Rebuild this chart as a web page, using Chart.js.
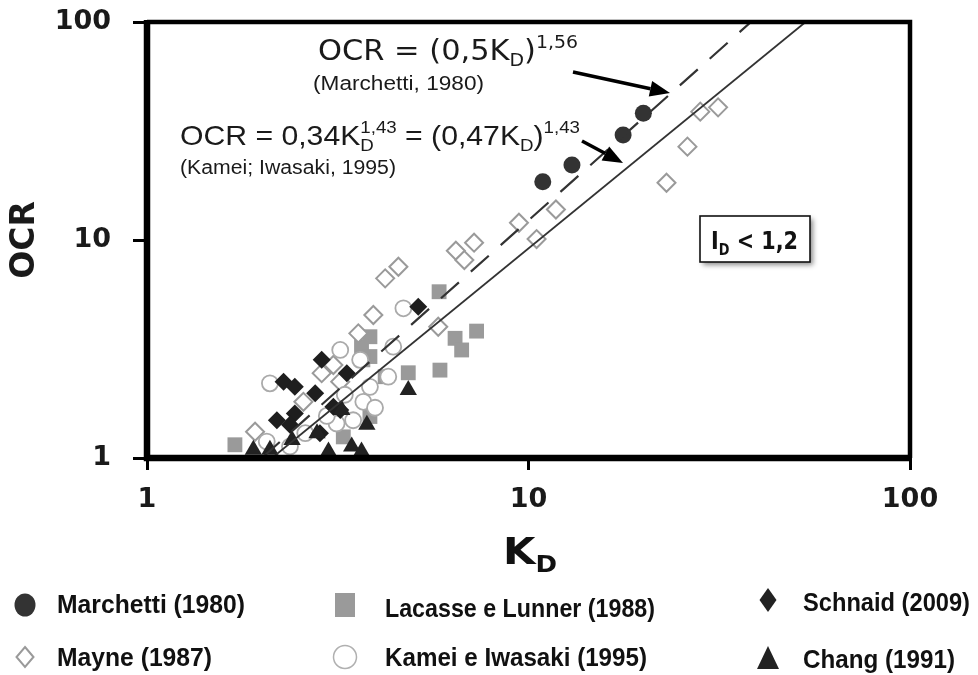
<!DOCTYPE html>
<html>
<head>
<meta charset="utf-8">
<script src="https://cdn.jsdelivr.net/npm/chart.js@4.4.0/dist/chart.umd.min.js"></script>
<style>
  html, body { margin: 0; padding: 0; background: #ffffff; }
  #wrap { width: 978px; height: 675px; }
</style>
</head>
<body>
<div id="wrap"><canvas id="c" width="978" height="675"></canvas></div>
<script>
// K_D and OCR values, one pair of arrays per study
const marchettiKD  = [10.9, 13.0, 17.7, 20.0];
const marchettiOCR = [18.5, 22.1, 30.3, 38.1];

const lacasseKD  = [5.83, 3.84, 3.65, 3.84, 6.42, 6.68, 7.31, 5.86, 4.84, 4.21, 3.84, 1.70, 3.27, 3.68];
const lacasseOCR = [5.79, 3.60, 3.24, 2.92, 3.54, 3.13, 3.82, 2.53, 2.46, 2.36, 1.55, 1.15, 1.25, 2.82];

const schnaidKD  = [5.14, 2.87, 3.34, 2.28, 2.44, 2.76, 3.21, 2.44, 2.19, 2.37, 2.84, 3.08];
const schnaidOCR = [4.94, 2.82, 2.45, 2.24, 2.12, 1.98, 1.66, 1.60, 1.49, 1.42, 1.30, 1.72];

const mayneKD  = [4.21, 4.56, 3.92, 5.80, 3.58, 3.08, 2.87, 2.57, 1.92, 6.45, 7.20, 6.79, 9.44, 10.5, 11.8, 23.0, 26.1, 28.2, 31.4, 3.21];
const mayneOCR = [6.67, 7.54, 4.53, 4.00, 3.73, 2.67, 2.45, 1.81, 1.32, 8.93, 9.72, 8.09, 12.0, 10.1, 13.8, 18.3, 26.8, 38.8, 40.6, 2.24];

const kameiKD  = [2.10, 3.21, 4.70, 3.69, 3.84, 4.29, 3.14, 2.96, 2.37, 3.47, 4.42, 3.62, 2.06, 2.60, 3.30, 3.96];
const kameiOCR = [2.20, 3.13, 4.86, 1.81, 2.12, 2.36, 1.44, 1.56, 1.13, 1.49, 3.24, 2.82, 1.19, 1.30, 1.95, 1.70];

const changKD  = [4.84, 3.77, 1.90, 2.99, 3.44, 2.79, 3.24, 3.65, 2.40, 2.10];
const changOCR = [2.05, 1.42, 1.09, 1.07, 1.13, 1.30, 1.66, 1.07, 1.21, 1.09];

// axis ticks
const tickValues = [1, 10, 100];

// correlations: OCR = coef * KD^exp  and  OCR = (factor * KD)^exp
const kameiCoef = 0.34, kameiExp = 1.43;
const marchettiFactor = 0.5, marchettiExp = 1.56;
const lineOCR = [1, 100];

const zip = (xs, ys) => xs.map((x, i) => ({ x: x, y: ys[i] }));
const kameiLine = lineOCR.map(o => ({ x: Math.pow(o / kameiCoef, 1 / kameiExp), y: o }));
const marchettiLine = lineOCR.map(o => ({ x: Math.pow(o, 1 / marchettiExp) / marchettiFactor, y: o }));

const ink = '#1a1a1a';
const narrow = '"Liberation Sans Narrow", "Liberation Sans", Arial, sans-serif';

// text made of runs: normal, subscript, superscript; optionally stretched to a width
function drawRuns(ctx, runs, x, y, size, family, weight, width, color) {
  const fontFor = (r) => (weight ? weight + ' ' : '') + (r.sub || r.sup ? size * 0.62 : size) + 'px ' + family;
  let pos = 0, prevStart = 0;
  const placed = runs.map(r => {
    ctx.font = fontFor(r);
    const w = ctx.measureText(r.t).width;
    const start = r.stack ? prevStart : pos;
    prevStart = start;
    pos = Math.max(pos, start + w);
    return { r: r, start: start };
  });
  const sx = width ? width / pos : 1;
  ctx.save();
  ctx.fillStyle = color || ink;
  ctx.textBaseline = 'alphabetic';
  ctx.textAlign = 'left';
  ctx.translate(x, y);
  ctx.scale(sx, 1);
  placed.forEach(p => {
    ctx.font = fontFor(p.r);
    const dy = p.r.sub ? size * 0.22 : (p.r.sup ? -size * 0.42 : 0);
    ctx.fillText(p.r.t, p.start, dy);
  });
  ctx.restore();
}

function arrow(ctx, x1, y1, x2, y2) {
  const ang = Math.atan2(y2 - y1, x2 - x1);
  const hl = 20, hw = 8;
  const bx = x2 - hl * Math.cos(ang), by = y2 - hl * Math.sin(ang);
  ctx.save();
  ctx.strokeStyle = '#000'; ctx.fillStyle = '#000'; ctx.lineWidth = 3.5;
  ctx.beginPath(); ctx.moveTo(x1, y1); ctx.lineTo(bx, by); ctx.stroke();
  ctx.beginPath();
  ctx.moveTo(x2, y2);
  ctx.lineTo(bx + hw * Math.sin(ang), by - hw * Math.cos(ang));
  ctx.lineTo(bx - hw * Math.sin(ang), by + hw * Math.cos(ang));
  ctx.closePath(); ctx.fill();
  ctx.restore();
}

function legendMarker(ctx, kind, x, y) {
  ctx.save();
  ctx.beginPath();
  if (kind === 'circleFill') {
    ctx.fillStyle = '#333'; ctx.ellipse(x, y, 10.5, 11.5, 0, 0, Math.PI * 2); ctx.fill();
  } else if (kind === 'square') {
    ctx.fillStyle = '#9a9a9a'; ctx.fillRect(x - 10, y - 12, 20, 24);
  } else if (kind === 'diamondFill') {
    ctx.fillStyle = '#222';
    ctx.moveTo(x, y - 12); ctx.lineTo(x + 8.5, y); ctx.lineTo(x, y + 12); ctx.lineTo(x - 8.5, y); ctx.closePath(); ctx.fill();
  } else if (kind === 'diamondOpen') {
    ctx.strokeStyle = '#9a9a9a'; ctx.lineWidth = 2;
    ctx.moveTo(x, y - 10); ctx.lineTo(x + 8.5, y); ctx.lineTo(x, y + 10); ctx.lineTo(x - 8.5, y); ctx.closePath(); ctx.stroke();
  } else if (kind === 'circleOpen') {
    ctx.strokeStyle = '#b0b0b0'; ctx.lineWidth = 1.5; ctx.arc(x, y, 11.5, 0, Math.PI * 2); ctx.stroke();
  } else if (kind === 'triangle') {
    ctx.fillStyle = '#222';
    ctx.moveTo(x, y - 12); ctx.lineTo(x + 11, y + 11); ctx.lineTo(x - 11, y + 11); ctx.closePath(); ctx.fill();
  }
  ctx.restore();
}

const legendItems = [
  { kind: 'circleFill',  mx: 25,  my: 605, label: 'Marchetti (1980)',        tx: 57,  ty: 613, tw: 188 },
  { kind: 'square',      mx: 345, my: 605, label: 'Lacasse e Lunner (1988)', tx: 385, ty: 617, tw: 270 },
  { kind: 'diamondFill', mx: 768, my: 600, label: 'Schnaid (2009)',          tx: 803, ty: 611, tw: 167 },
  { kind: 'diamondOpen', mx: 25,  my: 657, label: 'Mayne (1987)',            tx: 57,  ty: 666, tw: 155 },
  { kind: 'circleOpen',  mx: 345, my: 657, label: 'Kamei e Iwasaki (1995)',  tx: 385, ty: 666, tw: 262 },
  { kind: 'triangle',    mx: 768, my: 658, label: 'Chang (1991)',            tx: 803, ty: 668, tw: 152 }
];

const decorations = {
  id: 'decorations',
  afterDraw(chart) {
    const ctx = chart.ctx, a = chart.chartArea;
    // plot frame
    ctx.save();
    ctx.strokeStyle = '#000';
    ctx.lineWidth = 4.5;
    ctx.beginPath(); ctx.moveTo(a.left, a.top); ctx.lineTo(a.right, a.top); ctx.lineTo(a.right, a.bottom); ctx.stroke();
    ctx.lineWidth = 6.5;
    ctx.beginPath(); ctx.moveTo(a.left, a.top - 2); ctx.lineTo(a.left, a.bottom); ctx.lineTo(a.right + 2, a.bottom); ctx.stroke();
    ctx.restore();

    // equations and sources
    drawRuns(ctx, [{ t: 'OCR = (0,5K' }, { t: 'D', sub: true }, { t: ')' }, { t: '1,56', sup: true }],
      318, 60, 28, '"DejaVu Sans", sans-serif', '', 260);
    drawRuns(ctx, [{ t: '(Marchetti, 1980)' }], 313, 90, 20, narrow, '', 171);
    drawRuns(ctx, [{ t: 'OCR = 0,34K' }, { t: 'D', sub: true }, { t: '1,43', sup: true, stack: true },
                   { t: ' = (0,47K' }, { t: 'D', sub: true }, { t: ')' }, { t: '1,43', sup: true }],
      180, 145, 28, narrow, '', 400);
    drawRuns(ctx, [{ t: '(Kamei; Iwasaki, 1995)' }], 180, 174, 20, narrow, '', 216);

    arrow(ctx, 573, 72, 670, 93);
    arrow(ctx, 582, 141, 623, 163);

    // I_D < 1,2 box
    ctx.save();
    ctx.shadowColor = 'rgba(0,0,0,0.45)'; ctx.shadowBlur = 5; ctx.shadowOffsetX = 3; ctx.shadowOffsetY = 3;
    ctx.fillStyle = '#fff'; ctx.fillRect(700, 216, 110, 46);
    ctx.restore();
    ctx.save(); ctx.strokeStyle = '#111'; ctx.lineWidth = 1.6; ctx.strokeRect(700, 216, 110, 46); ctx.restore();
    drawRuns(ctx, [{ t: 'I' }, { t: 'D', sub: true }, { t: ' < 1,2' }], 711, 249, 25, '"DejaVu Sans", sans-serif', 'bold', 87, '#111');

    // x axis title
    drawRuns(ctx, [{ t: 'K' }, { t: 'D', sub: true }], 503, 564, 38, '"DejaVu Sans", sans-serif', 'bold', 54, '#111');

    // legend
    legendItems.forEach(it => {
      legendMarker(ctx, it.kind, it.mx, it.my);
      drawRuns(ctx, [{ t: it.label }], it.tx, it.ty, 25, narrow, 'bold', it.tw, '#111');
    });
  }
};

const pointSet = (label, data, style, order) => Object.assign({
  type: 'scatter', label: label, data: data, order: order, clip: 0, showLine: false
}, style);

new Chart(document.getElementById('c'), {
  data: {
    datasets: [
      { type: 'line', label: 'Kamei e Iwasaki (1995)', data: kameiLine, borderColor: '#333', borderWidth: 1.8,
        pointRadius: 0, fill: false, order: 0, clip: 0 },
      { type: 'line', label: 'Marchetti (1980)', data: marchettiLine, borderColor: '#333', borderWidth: 2.2,
        borderDash: [24, 16], pointRadius: 0, fill: false, order: 0, clip: 0 },
      pointSet('Marchetti (1980)', zip(marchettiKD, marchettiOCR),
        { pointStyle: 'circle', pointRadius: 8.5, backgroundColor: '#333', borderColor: '#333', borderWidth: 0 }, 1),
      pointSet('Chang (1991)', zip(changKD, changOCR),
        { pointStyle: 'triangle', pointRadius: 10, backgroundColor: '#222', borderColor: '#222', borderWidth: 0 }, 2),
      pointSet('Schnaid (2009)', zip(schnaidKD, schnaidOCR),
        { pointStyle: 'rectRot', pointRadius: 9, backgroundColor: '#1e1e1e', borderColor: '#1e1e1e', borderWidth: 0 }, 3),
      pointSet('Kamei e Iwasaki (1995)', zip(kameiKD, kameiOCR),
        { pointStyle: 'circle', pointRadius: 8, backgroundColor: '#fff', borderColor: '#aaa', borderWidth: 1.8 }, 4),
      pointSet('Mayne (1987)', zip(mayneKD, mayneOCR),
        { pointStyle: 'rectRot', pointRadius: 9, backgroundColor: '#fff', borderColor: '#9a9a9a', borderWidth: 2 }, 5),
      pointSet('Lacasse e Lunner (1988)', zip(lacasseKD, lacasseOCR),
        { pointStyle: 'rect', pointRadius: 10.5, backgroundColor: '#9a9a9a', borderColor: '#9a9a9a', borderWidth: 0 }, 6)
    ]
  },
  options: {
    responsive: false,
    animation: false,
    devicePixelRatio: 1,
    layout: { padding: { top: 22, right: 68, left: 0, bottom: 0 } },
    plugins: { legend: { display: false }, tooltip: { enabled: false } },
    scales: {
      x: {
        type: 'logarithmic', position: 'bottom', min: 1, max: 100,
        afterBuildTicks: s => { s.ticks = tickValues.map(v => ({ value: v })); },
        afterFit: s => { s.height = 217; s.paddingLeft = 0; s.paddingRight = 0; },
        grid: { display: true, drawOnChartArea: false, drawTicks: true, tickLength: 12, color: '#000', lineWidth: 3 },
        border: { display: false },
        ticks: { font: { family: 'DejaVu Sans', weight: 'bold', size: 27 }, color: ink, padding: 14,
                 maxRotation: 0, autoSkip: false, callback: v => String(v) }
      },
      y: {
        type: 'logarithmic', position: 'left', min: 1, max: 100,
        afterBuildTicks: s => { s.ticks = tickValues.map(v => ({ value: v })); },
        afterFit: s => { s.width = 147; s.paddingTop = 0; s.paddingBottom = 0; },
        grid: { display: true, drawOnChartArea: false, drawTicks: true, tickLength: 14, color: '#000', lineWidth: 3 },
        border: { display: false },
        title: { display: true, text: 'OCR', color: ink, font: { family: 'DejaVu Sans', weight: 'bold', size: 33 },
                 padding: { top: 6, bottom: 0 } },
        ticks: { font: { family: 'DejaVu Sans', weight: 'bold', size: 27 }, color: ink, padding: 22,
                 autoSkip: false, callback: v => String(v) }
      }
    }
  },
  plugins: [decorations]
});
</script>
</body>
</html>
